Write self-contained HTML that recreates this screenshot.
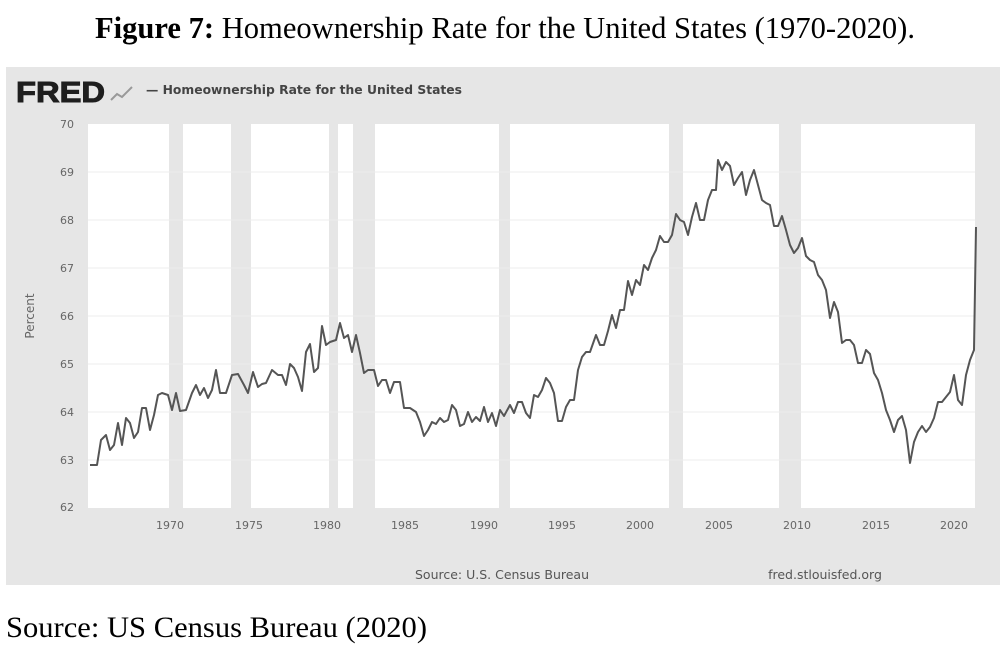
<!DOCTYPE html>
<html><head><meta charset="utf-8"><style>
body{margin:0;background:#fff;width:1007px;height:645px;overflow:hidden;font-family:"Liberation Serif",serif}
</style></head><body>
<svg width="1007" height="645" xmlns="http://www.w3.org/2000/svg">
<text x="505" y="38" text-anchor="middle" font-family="Liberation Serif" font-size="30.5" fill="#000" textLength="820" lengthAdjust="spacingAndGlyphs"><tspan font-weight="bold">Figure 7:</tspan> Homeownership Rate for the United States (1970-2020).</text>
<rect x="6" y="67" width="994" height="518" fill="#e6e6e6"/>
<rect x="88" y="124" width="887" height="384" fill="#fff"/>
<g fill="#e6e6e6">
<rect x="169" y="124" width="14" height="384"/><rect x="231" y="124" width="20" height="384"/>
<rect x="329" y="124" width="9" height="384"/><rect x="353" y="124" width="22" height="384"/>
<rect x="499" y="124" width="11" height="384"/><rect x="669" y="124" width="14" height="384"/>
<rect x="779" y="124" width="22" height="384"/></g>
<g stroke="#ececec" stroke-width="1">
<line x1="88" x2="975" y1="172" y2="172"/><line x1="88" x2="975" y1="220" y2="220"/><line x1="88" x2="975" y1="268" y2="268"/><line x1="88" x2="975" y1="316" y2="316"/><line x1="88" x2="975" y1="364" y2="364"/><line x1="88" x2="975" y1="412" y2="412"/><line x1="88" x2="975" y1="460" y2="460"/></g>
<text x="16" y="102" font-family="Liberation Sans" font-weight="bold" font-size="29" fill="#1e1e1e" stroke="#1e1e1e" stroke-width="1" textLength="89" lengthAdjust="spacingAndGlyphs">FRED</text>
<polyline points="111,100 117,94 122,97 132,87" fill="none" stroke="#999" stroke-width="2"/>
<text x="146" y="94" font-family="DejaVu Sans" font-weight="bold" font-size="12.5" fill="#444" textLength="316" lengthAdjust="spacingAndGlyphs">— Homeownership Rate for the United States</text>
<g font-family="DejaVu Sans" font-size="11" fill="#666" text-anchor="end">
<text x="74" y="128">70</text><text x="74" y="176">69</text><text x="74" y="224">68</text><text x="74" y="272">67</text><text x="74" y="320">66</text><text x="74" y="368">65</text><text x="74" y="416">64</text><text x="74" y="464">63</text><text x="74" y="511">62</text></g>
<text transform="translate(34,316) rotate(-90)" text-anchor="middle" font-family="DejaVu Sans" font-size="12" fill="#666">Percent</text>
<g font-family="DejaVu Sans" font-size="11" fill="#666" text-anchor="middle">
<text x="170" y="529">1970</text><text x="249" y="529">1975</text><text x="327" y="529">1980</text><text x="405" y="529">1985</text><text x="484" y="529">1990</text><text x="562" y="529">1995</text><text x="640" y="529">2000</text><text x="719" y="529">2005</text><text x="797" y="529">2010</text><text x="876" y="529">2015</text><text x="954" y="529">2020</text></g>
<text x="502" y="579" text-anchor="middle" font-family="DejaVu Sans" font-size="12.5" fill="#555">Source: U.S. Census Bureau</text>
<text x="825" y="579" text-anchor="middle" font-family="DejaVu Sans" font-size="12.5" fill="#555">fred.stlouisfed.org</text>
<polyline fill="none" stroke="#555" stroke-width="2" stroke-linejoin="round" points="90,465 97,465 101,440 106,435 110,450 114,445 118,423 122,445 126,418 130,423 134,438 138,432 142,408 146,408 150,430 154,415 158,395 162,393 168,395 172,410 176,393 180,411 186,410 192,393 196,385 200,395 204,388 208,398 212,390 216,370 220,393 226,393 232,375 238,374 244,385 248,393 253,372 258,387 262,384 266,383 272,370 278,375 282,375 286,385 290,364 294,368 298,377 302,391 306,352 310,344 314,372 318,368 322,326 326,345 330,342 336,340 340,323 344,338 348,335 352,352 356,335 360,353 364,373 368,370 374,370 378,386 382,380 386,380 390,393 394,382 400,382 404,408 410,408 416,412 420,422 424,436 428,430 432,422 436,424 440,418 444,422 448,420 452,405 456,410 460,426 464,424 468,412 472,422 476,417 480,421 484,407 488,422 492,413 496,426 500,410 504,416 510,405 514,413 518,402 522,402 526,413 530,418 534,395 538,397 542,390 546,378 550,383 554,393 558,421 562,421 566,407 570,400 574,400 578,370 582,357 586,352 590,352 596,335 600,345 604,345 608,331 612,315 616,328 620,310 624,310 628,281 632,295 636,280 640,285 644,265 648,270 652,258 656,250 660,236 664,242 668,242 672,235 676,214 680,220 684,222 688,235 692,217 696,203 700,220 704,220 708,200 712,190 716,190 718,160 722,170 726,162 730,166 734,185 738,178 742,172 746,195 750,180 754,170 758,185 762,200 766,203 770,205 774,226 778,226 782,216 786,230 790,245 794,253 798,248 802,238 806,256 810,260 814,262 818,275 822,280 826,290 830,318 834,302 838,312 842,343 846,340 850,340 854,345 858,363 862,363 866,350 870,354 874,373 878,380 882,393 886,410 890,420 894,432 898,420 902,416 906,430 910,463 914,442 918,432 922,426 926,432 930,427 934,418 938,402 942,402 946,397 950,392 954,375 958,400 962,405 966,375 970,360 974,350 976,227"/>
<text x="6" y="637" font-family="Liberation Serif" font-size="30" fill="#000" textLength="421" lengthAdjust="spacingAndGlyphs">Source: US Census Bureau (2020)</text>
</svg>
</body></html>
